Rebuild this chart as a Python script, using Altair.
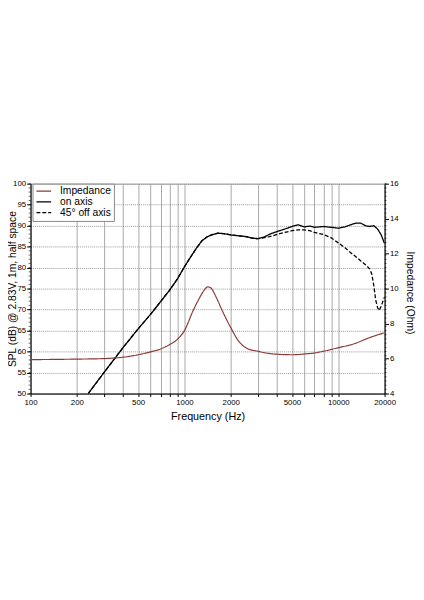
import altair as alt
import pandas as pd

# ---- data ----
on_freq = [237, 300, 400, 500, 600, 700, 800, 900, 1000, 1100, 1200, 1300, 1400, 1500,
           1650, 1800, 2000, 2500, 2800, 3000, 3300, 3600, 4000, 4500, 5000, 5500, 6000,
           6500, 7000, 8000, 9000, 10000, 11000, 12000, 13000, 14000, 15000, 16000,
           17000, 18000, 19000, 20000]
on_spl = [50.0, 55.0, 61.0, 65.4, 68.8, 71.9, 74.6, 77.3, 80.2, 82.6, 84.7, 86.4, 87.3, 87.8,
          88.2, 88.1, 87.8, 87.4, 87.0, 86.9, 87.3, 88.0, 88.6, 89.2, 89.8, 90.2, 89.7,
          89.9, 89.6, 89.8, 89.6, 89.4, 89.7, 90.2, 90.6, 90.6, 90.0, 89.8,
          90.0, 89.2, 87.8, 85.7]

off_freq = [237, 300, 400, 500, 600, 700, 800, 900, 1000, 1100, 1200, 1300, 1400, 1500,
            1650, 1800, 2000, 2500, 2800, 3000, 3500, 4000, 4500, 5000, 5500, 6000, 6500,
            7000, 8000, 9000, 10000, 11000, 12000, 13000, 14000, 15000, 16000, 16500,
            17000, 17500, 18000, 18400, 19000, 19500, 20000]
off_spl = [50.0, 55.0, 61.0, 65.4, 68.8, 71.9, 74.6, 77.3, 80.2, 82.6, 84.7, 86.4, 87.3, 87.8,
           88.2, 88.1, 87.8, 87.4, 87.0, 86.9, 87.3, 87.9, 88.4, 88.8, 89.0, 89.0, 88.8,
           88.4, 87.9, 87.1, 85.9, 84.8, 83.6, 82.6, 81.6, 80.7, 79.7, 78.5,
           75.8, 72.3, 70.5, 69.8, 70.8, 72.0, 73.0]

imp_freq = [100, 200, 300, 400, 500, 600, 700, 800, 900, 1000, 1140, 1250, 1340, 1420,
            1500, 1600, 1770, 2000, 2250, 2600, 3000, 3500, 4000, 5000, 6000, 7000, 8000,
            10000, 12800, 16000, 20000]
imp_ohm = [5.94, 5.97, 6.0, 6.08, 6.22, 6.38, 6.55, 6.8, 7.1, 7.6, 8.75, 9.45, 9.9, 10.1,
           10.0, 9.55, 8.7, 7.77, 7.0, 6.55, 6.42, 6.3, 6.25, 6.22, 6.26, 6.32, 6.42,
           6.62, 6.86, 7.2, 7.48]

series_names = ["Impedance", "on axis", "45° off axis"]
series_colors = ["#8b3a3a", "#000000", "#000000"]
series_dash = [[1, 0], [1, 0], [4, 2]]

x_grid_values = [100, 200, 300, 400, 500, 600, 700, 800, 900,
                 1000, 2000, 3000, 4000, 5000, 6000, 7000, 8000, 9000,
                 10000, 20000]
x_label_values = [100, 200, 500, 1000, 2000, 5000, 10000, 20000]
spl_ticks = [50, 55, 60, 65, 70, 75, 80, 85, 90, 95, 100]
imp_ticks = [4, 6, 8, 10, 12, 14, 16]
minor_ticks = list(range(50, 101))

spl_df = pd.concat([
    pd.DataFrame({"freq": on_freq, "spl": on_spl, "series": "on axis"}),
    pd.DataFrame({"freq": off_freq, "spl": off_spl, "series": "45° off axis"}),
])
imp_df = pd.DataFrame({"freq": imp_freq, "ohm": imp_ohm, "series": "Impedance"})
minor_df = pd.DataFrame({"spl": minor_ticks})

W, H = 361, 214
FONT = "Liberation Sans"


def make_legend():
    return alt.Legend(
        title=None, orient="none", legendX=2, legendY=0,
        strokeColor="#888888", fillColor="white", padding=3,
        rowPadding=0, clipHeight=9, symbolType="stroke", symbolSize=225,
        symbolStrokeWidth=1.3, labelFontSize=10.5, labelFont=FONT,
        labelOffset=8, labelColor="black",
    )


color_enc = alt.Color(
    "series:N",
    scale=alt.Scale(domain=series_names, range=series_colors),
    legend=make_legend(),
)
dash_enc = alt.StrokeDash(
    "series:N",
    scale=alt.Scale(domain=series_names, range=series_dash),
    legend=make_legend(),
)

label_expr = "indexof(%s, datum.value) >= 0 ? format(datum.value, 'd') : ''" % str(x_label_values)

x_enc = alt.X(
    "freq:Q",
    scale=alt.Scale(type="log", domain=[100, 20000], nice=False),
    axis=alt.Axis(
        title="Frequency (Hz)", values=x_grid_values, labelExpr=label_expr,
        grid=True, gridColor="#a8a8a8", gridWidth=1, tickSize=3,
        labelPadding=2, labelFontSize=8, titleFontSize=11, titlePadding=4,
        titleFontWeight="normal", domainColor="black", tickColor="black",
        labelFlush=False, labelFont=FONT, titleFont=FONT,
    ),
)


def spl_y():
    return alt.Y(
        "spl:Q",
        scale=alt.Scale(domain=[50, 100], nice=False, zero=False),
        axis=alt.Axis(
            title="SPL (dB) @ 2.83V, 1m, half space", values=spl_ticks,
            grid=True, gridColor="#999999", gridDash=[1, 1], gridWidth=1,
            tickSize=4, labelPadding=1, labelFontSize=8, titleFontSize=10.5,
            titleFontWeight="normal", titleX=-18, titleY=H / 2, titleAngle=270,
            titleBaseline="middle", titleAlign="center",
            domainColor="black", tickColor="black", labelFont=FONT, titleFont=FONT,
        ),
    )


spl_lines = alt.Chart(spl_df).mark_line(strokeWidth=1.3, clip=True).encode(
    x=x_enc,
    y=spl_y(),
    color=color_enc,
    strokeDash=dash_enc,
    order=alt.Order("freq:Q"),
)

minor_left = alt.Chart(minor_df).mark_rule(color="black", strokeWidth=0.6).encode(
    y=spl_y(),
    x=alt.value(-2), x2=alt.value(0),
)
minor_right = alt.Chart(minor_df).mark_rule(color="black", strokeWidth=0.6).encode(
    y=spl_y(),
    x=alt.value(W), x2=alt.value(W + 2),
)

imp_line = alt.Chart(imp_df).mark_line(strokeWidth=1.2, interpolate="monotone").encode(
    x=x_enc,
    y=alt.Y(
        "ohm:Q",
        scale=alt.Scale(domain=[4, 16], nice=False, zero=False),
        axis=alt.Axis(
            title="Impedance (Ohm)", orient="right", values=imp_ticks, grid=False,
            tickSize=4, labelPadding=1, labelFontSize=8, titleFontSize=10.5,
            titleFontWeight="normal", titleX=25, titleY=H / 2 + 4, titleAngle=90,
            titleBaseline="middle", titleAlign="center",
            domainColor="black", tickColor="black", labelFont=FONT, titleFont=FONT,
        ),
    ),
    color=color_enc,
    strokeDash=dash_enc,
)

left = alt.layer(spl_lines, minor_left, minor_right)
chart = alt.layer(left, imp_line).resolve_scale(y="independent").properties(
    width=W, height=H,
    autosize=alt.AutoSizeParams(type="none"),
    padding={"left": 23, "top": 175, "right": 32, "bottom": 32},
    background="white",
).configure_view(
    stroke="#999999", strokeWidth=1,
)

chart.save("out.html", embed_options={"renderer": "svg", "actions": False})
